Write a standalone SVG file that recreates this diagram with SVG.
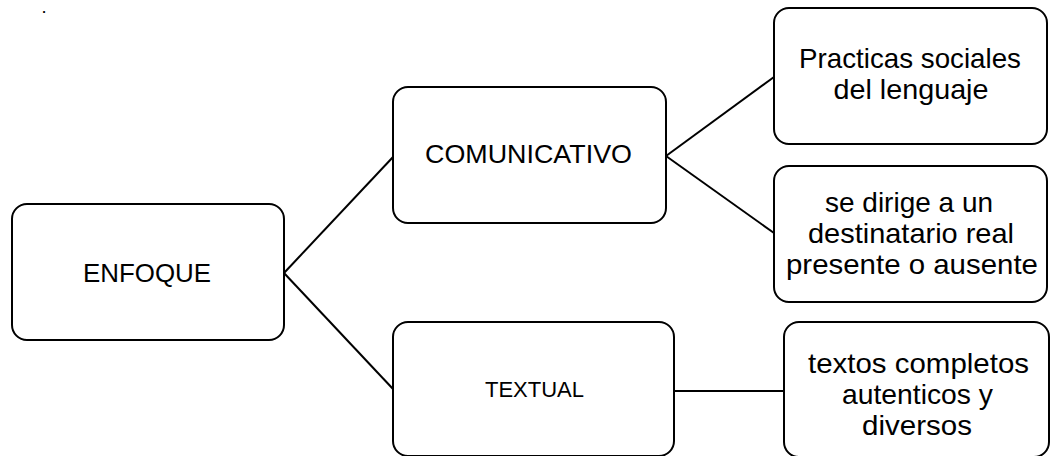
<svg xmlns="http://www.w3.org/2000/svg" width="1051" height="456" viewBox="0 0 1051 456">
<style>
.box{fill:#ffffff;stroke:#000000;stroke-width:2}
.lbl{font-family:"Liberation Sans",Arial,sans-serif;fill:#000000;text-anchor:middle}
.big{font-size:28px}
.cap{font-size:26.5px}
.sm{font-size:22px}
.con{stroke:#000000;stroke-width:2;fill:none}
</style>
<rect width="1051" height="456" fill="#ffffff"/>
<text class="lbl" x="44" y="13" style="font-size:13px;font-weight:bold">.</text>
<g id="connectors">
<line class="con" x1="284" y1="273" x2="393" y2="157"/>
<line class="con" x1="284" y1="273" x2="393" y2="389"/>
<line class="con" x1="666" y1="156" x2="774" y2="77"/>
<line class="con" x1="666" y1="156" x2="774" y2="233"/>
<line class="con" x1="674" y1="391" x2="784" y2="391"/>
</g>
<g id="enfoque">
<rect class="box" x="12" y="204" width="272" height="136" rx="15"/>
<text class="lbl cap" x="147" y="282" textLength="128" lengthAdjust="spacingAndGlyphs">ENFOQUE</text>
</g>
<g id="comunicativo">
<rect class="box" x="393" y="87" width="273" height="136" rx="15"/>
<text class="lbl cap" x="528.5" y="163" textLength="207" lengthAdjust="spacingAndGlyphs">COMUNICATIVO</text>
</g>
<g id="textual">
<rect class="box" x="393" y="322" width="281" height="134" rx="15"/>
<text class="lbl sm" x="534.5" y="397" textLength="99" lengthAdjust="spacingAndGlyphs">TEXTUAL</text>
</g>
<g id="practicas">
<rect class="box" x="774" y="8" width="273" height="136" rx="15"/>
<text class="lbl big" x="910" y="68" textLength="222" lengthAdjust="spacingAndGlyphs">Practicas sociales</text>
<text class="lbl big" x="911" y="99" textLength="155" lengthAdjust="spacingAndGlyphs">del lenguaje</text>
</g>
<g id="destinatario">
<rect class="box" x="774" y="166" width="273" height="136" rx="15"/>
<text class="lbl big" x="909" y="212" textLength="168" lengthAdjust="spacingAndGlyphs">se dirige a un</text>
<text class="lbl big" x="911" y="243" textLength="206" lengthAdjust="spacingAndGlyphs">destinatario real</text>
<text class="lbl big" x="912" y="274" textLength="252" lengthAdjust="spacingAndGlyphs">presente o ausente</text>
</g>
<g id="textos">
<rect class="box" x="784" y="322" width="265" height="135" rx="15"/>
<text class="lbl big" x="918.5" y="373" textLength="221" lengthAdjust="spacingAndGlyphs">textos completos</text>
<text class="lbl big" x="917.5" y="404" textLength="151" lengthAdjust="spacingAndGlyphs">autenticos y</text>
<text class="lbl big" x="917" y="435" textLength="110" lengthAdjust="spacingAndGlyphs">diversos</text>
</g>
</svg>
